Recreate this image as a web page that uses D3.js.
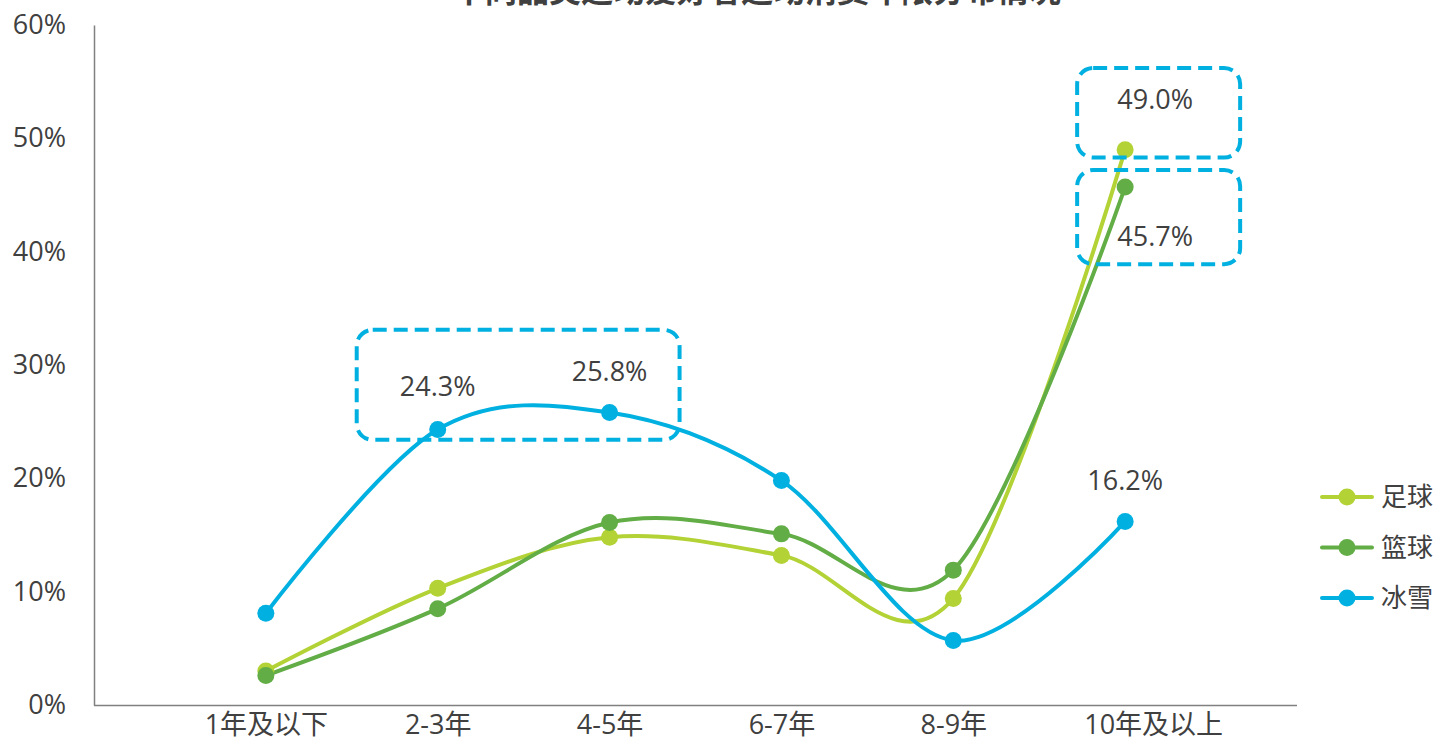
<!DOCTYPE html>
<html>
<head>
<meta charset="utf-8">
<script src="https://cdn.jsdelivr.net/npm/d3@7"></script>
<style>
  html, body { margin: 0; padding: 0; background: #fff; }
  svg { display: block; font-family: "Open Sans", "Noto Sans CJK SC", sans-serif; }
</style>
</head>
<body>
<svg id="chart" width="1437" height="742"></svg>
<script>
// Years of spending on each sport
const categories = ["1年及以下", "2-3年", "4-5年", "6-7年", "8-9年", "10年及以上"];
const football   = [3.0, 10.3, 14.8, 13.2, 9.4, 49.0];
const basketball = [2.6, 8.5, 16.1, 15.1, 11.9, 45.7];
const snow       = [8.1, 24.3, 25.8, 19.8, 5.7, 16.2];
const seriesNames = ["足球", "篮球", "冰雪"];
const yTicks = [0, 10, 20, 30, 40, 50, 60];
const title = "不同品类运动爱好者运动消费年限分布情况";

const colors = ["#b2d235", "#62ad45", "#00b0e0"];
const series = [football, basketball, snow];

const svg = d3.select("#chart");
const plotLeft = 94, plotRight = 1297, plotTop = 25, plotBottom = 705;

const x = d3.scalePoint().domain(categories).range([plotLeft, plotRight]).padding(1);
const y = d3.scaleLinear().domain([0, 60]).range([plotBottom, plotTop]);

// Title (sits partly above the page edge)
svg.append("text")
  .attr("x", 757).attr("y", 2)
  .attr("text-anchor", "middle")
  .attr("font-size", 32).attr("font-weight", "bold")
  .attr("fill", "#404040")
  .attr("font-family", "Noto Sans CJK SC")
  .text(title);

// Axes
const yAxis = svg.append("g").attr("transform", `translate(${plotLeft},0)`)
  .call(d3.axisLeft(y).tickValues(yTicks).tickSize(0).tickPadding(28).tickFormat(d => d + "%"));
yAxis.select(".domain").attr("stroke", "#808080").attr("stroke-width", 1.5);
yAxis.selectAll("text").attr("font-size", 27).attr("fill", "#404040")
  .attr("font-family", "Open Sans");

const xAxis = svg.append("g").attr("transform", `translate(0,${plotBottom})`)
  .call(d3.axisBottom(x).tickSize(0).tickPadding(10).tickSizeOuter(0));
xAxis.select(".domain").attr("stroke", "#808080").attr("stroke-width", 1.5)
  .attr("d", `M${plotLeft},0.5H${plotRight}`);
xAxis.selectAll("text").attr("font-size", 27).attr("fill", "#404040")
  .attr("font-family", "Open Sans, Noto Sans CJK SC").attr("dy", "0.72em")
  .attr("dx", (d, i) => i === categories.length - 1 ? 28 : 0);

// Smoothed lines and markers
const line = d3.line()
  .x((d, i) => x(categories[i]))
  .y(d => y(d))
  .curve(d3.curveCardinal.tension(0));

series.forEach((vals, s) => {
  svg.append("path").datum(vals)
    .attr("d", line)
    .attr("fill", "none")
    .attr("stroke", colors[s])
    .attr("stroke-width", 4)
    .attr("stroke-linecap", "round");
});
series.forEach((vals, s) => {
  svg.append("g").selectAll("circle").data(vals).join("circle")
    .attr("cx", (d, i) => x(categories[i]))
    .attr("cy", d => y(d))
    .attr("r", 8.5)
    .attr("fill", colors[s]);
});

// Callout boxes
const boxStyle = sel => sel
  .attr("fill", "none").attr("stroke", "#00b0e0").attr("stroke-width", 4)
  .attr("stroke-dasharray", "14 7").attr("rx", 16).attr("ry", 16);

const bx1 = x(categories[1]) - 81, bx2 = x(categories[2]) + 70;
svg.append("rect").call(boxStyle)
  .attr("x", bx1).attr("y", y(33.1)).attr("width", bx2 - bx1).attr("height", y(23.4) - y(33.1));

const last = x(categories[5]);
svg.append("rect").call(boxStyle)
  .attr("x", last - 48).attr("y", y(56.2)).attr("width", 163).attr("height", y(48.3) - y(56.2));
svg.append("rect").call(boxStyle)
  .attr("x", last - 48).attr("y", y(47.2)).attr("width", 163).attr("height", y(38.9) - y(47.2));

// Value labels
const labels = [
  { v: snow[1], cx: x(categories[1]), cy: 387 },
  { v: snow[2], cx: x(categories[2]), cy: 372 },
  { v: football[5], cx: last + 30, cy: 100 },
  { v: basketball[5], cx: last + 30, cy: 237 },
  { v: snow[5], cx: last, cy: 481 }
];
svg.append("g").selectAll("text").data(labels).join("text")
  .attr("x", d => d.cx).attr("y", d => d.cy)
  .attr("dy", "0.35em")
  .attr("text-anchor", "middle")
  .attr("font-size", 27).attr("fill", "#404040")
  .attr("font-family", "Open Sans")
  .text(d => d.v.toFixed(1) + "%");

// Legend
const legend = svg.append("g");
seriesNames.forEach((name, i) => {
  const ly = 497 + i * 50.5;
  legend.append("line").attr("x1", 1322).attr("x2", 1372).attr("y1", ly).attr("y2", ly)
    .attr("stroke", colors[i]).attr("stroke-width", 4).attr("stroke-linecap", "round");
  legend.append("circle").attr("cx", 1347).attr("cy", ly).attr("r", 8.5).attr("fill", colors[i]);
  legend.append("text").attr("x", 1381).attr("y", ly).attr("dy", "0.35em")
    .attr("font-size", 26).attr("fill", "#404040")
    .attr("font-family", "Noto Sans CJK SC")
    .text(name);
});
</script>
</body>
</html>
